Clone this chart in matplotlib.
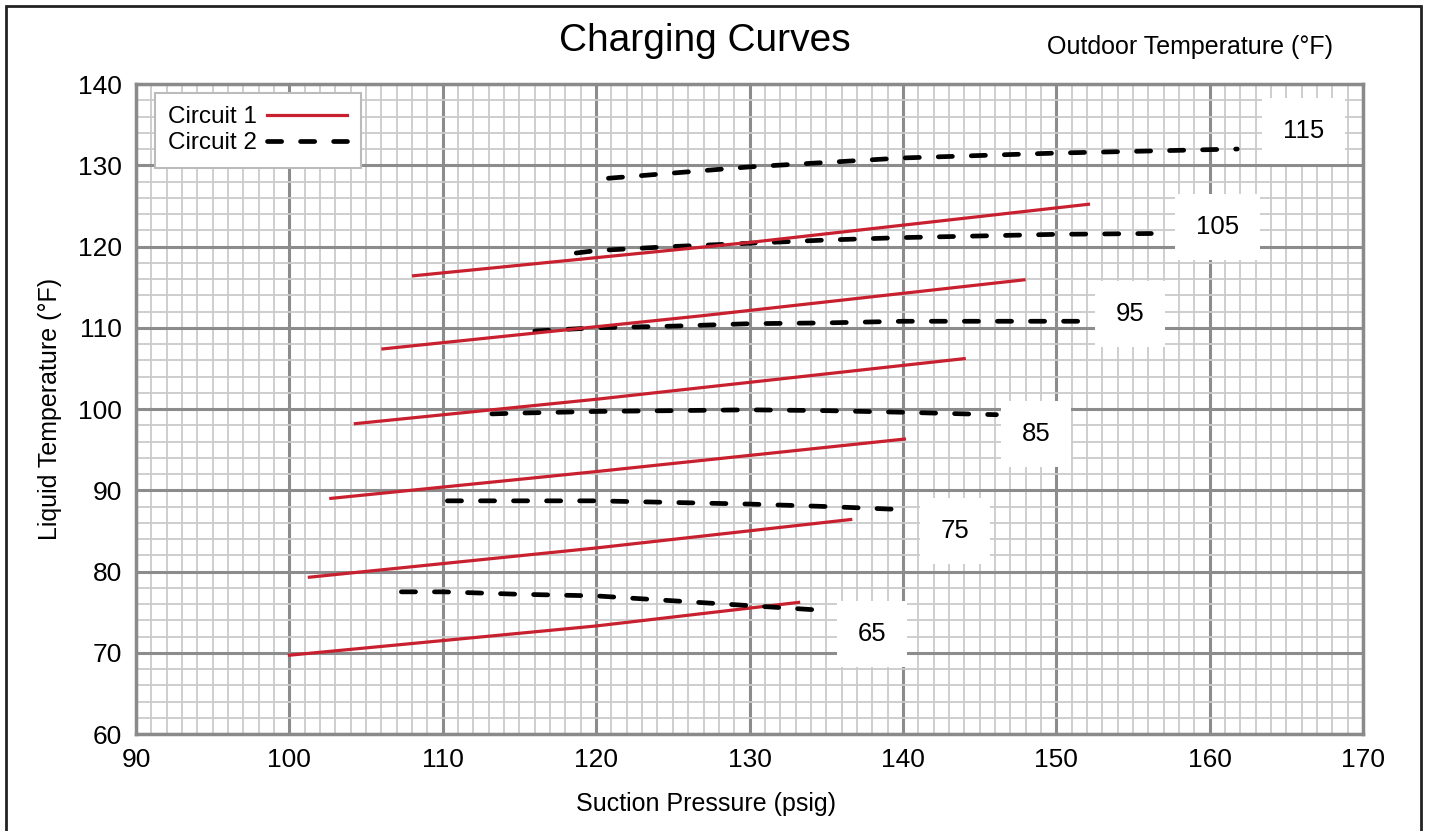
import numpy as np
import matplotlib.pyplot as plt
from matplotlib.patches import Rectangle
from matplotlib.ticker import MultipleLocator

plt.rcParams['font.family'] = ['Liberation Sans', 'DejaVu Sans']

# outdoor temperatures (deg F)
outdoor = [65, 75, 85, 95, 105, 115]

# Circuit 1 (red solid) - suction pressure / liquid temperature
c1_x = [
    [100.0, 120.0, 133.2],
    [101.3, 120.0, 136.6],
    [102.7, 120.0, 140.1],
    [104.3, 120.0, 144.0],
    [106.1, 127.0, 147.9],
    [108.1, 130.0, 152.1],
]
c1_y = [
    [69.7, 73.3, 76.2],
    [79.3, 82.9, 86.4],
    [89.0, 92.3, 96.3],
    [98.2, 101.2, 106.2],
    [107.4, 111.5, 115.9],
    [116.4, 120.5, 125.2],
]

# Circuit 2 (black dashed)
c2_x = [
    [107.3, 110.0, 115.0, 120.0, 125.0, 130.0, 135.0],
    [110.3, 120.0, 125.0, 130.0, 135.0, 140.3],
    [113.2, 115.0, 120.0, 125.0, 130.0, 135.0, 140.0, 146.1],
    [116.0, 120.0, 125.0, 130.0, 135.0, 140.0, 151.5],
    [118.7, 120.0, 125.0, 130.0, 135.0, 140.0, 145.0, 150.0, 156.2],
    [120.8, 130.0, 140.0, 150.0, 161.8],
]
c2_y = [
    [77.5, 77.5, 77.2, 77.0, 76.4, 75.8, 75.2],
    [88.7, 88.7, 88.5, 88.3, 88.0, 87.6],
    [99.4, 99.5, 99.7, 99.8, 99.9, 99.8, 99.6, 99.3],
    [109.6, 110.0, 110.2, 110.5, 110.6, 110.8, 110.8],
    [119.2, 119.5, 120.0, 120.4, 120.8, 121.1, 121.3, 121.5, 121.6],
    [128.4, 129.8, 130.9, 131.5, 132.0],
]

# where the outdoor temperature tags sit
tag_x = [138.0, 143.4, 148.7, 154.8, 160.5, 166.1]
tag_y = [72.3, 85.0, 96.9, 111.7, 122.4, 134.2]

fig = plt.figure(figsize=(14.29, 8.31), dpi=100)
ax = fig.add_axes([0.0952, 0.1167, 0.8586, 0.7822])

ax.set_xlim(90, 170)
ax.set_ylim(60, 140)
ax.xaxis.set_major_locator(MultipleLocator(10))
ax.xaxis.set_minor_locator(MultipleLocator(1))
ax.yaxis.set_major_locator(MultipleLocator(10))
ax.yaxis.set_minor_locator(MultipleLocator(2))
ax.grid(which='minor', color='#cacaca', linewidth=1.3)
ax.grid(which='major', color='#8c8c8c', linewidth=2.2)
ax.set_axisbelow(True)
ax.tick_params(which='both', length=0, labelsize=19, pad=10)
for s in ax.spines.values():
    s.set_color('#8a8a8a')
    s.set_linewidth(2.5)

for i in range(len(outdoor)):
    ax.plot(c1_x[i], c1_y[i], color='#c8202f', linewidth=2.3,
            label='Circuit 1' if i == 0 else None)
    ax.plot(c2_x[i], c2_y[i], color='black', linewidth=3.4,
            dashes=(3, 4), dash_capstyle='round',
            label='Circuit 2' if i == 0 else None)
    ax.text(tag_x[i], tag_y[i], str(outdoor[i]), fontsize=18.5,
            ha='center', va='center',
            bbox=dict(facecolor='white', edgecolor='none', pad=15))

leg = ax.legend(loc='upper left', bbox_to_anchor=(0.0155, 0.986),
                borderaxespad=0, fontsize=17.5, markerfirst=False,
                handlelength=3.3, handletextpad=0.4, fancybox=False,
                framealpha=1, edgecolor='#bbbbbb', borderpad=0.55,
                labelspacing=0.15)
leg.get_frame().set_linewidth(1.5)

fig.text(0.493, 0.951, 'Charging Curves', fontsize=28, ha='center', va='center')
fig.text(0.833, 0.943, 'Outdoor Temperature (°F)', fontsize=18,
         ha='center', va='center')
fig.text(0.494, 0.033, 'Suction Pressure (psig)', fontsize=18,
         ha='center', va='center')
fig.text(0.035, 0.508, 'Liquid Temperature (°F)', fontsize=18,
         ha='center', va='center', rotation=90)

fig.patches.append(Rectangle((0.0042, -0.02), 0.9902, 1.0128,
                             transform=fig.transFigure, fill=False,
                             edgecolor='#222222', linewidth=2))

fig.savefig('out.png', dpi=100)
